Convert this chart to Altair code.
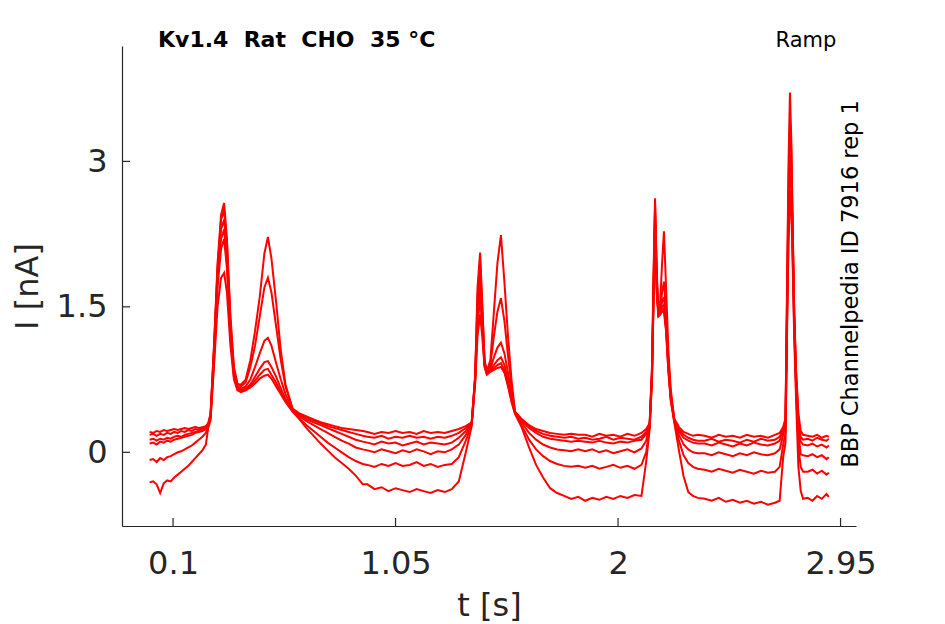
import altair as alt
import pandas as pd

# time axis (s)
t = [
    0.000, 0.015, 0.030, 0.045, 0.060, 0.075, 0.090, 0.105, 0.120, 0.135, 0.150, 0.165, 0.180, 0.195, 0.210, 0.225, 0.240, 0.250,
    0.260, 0.275, 0.290, 0.305, 0.318, 0.330, 0.345, 0.360, 0.375, 0.390, 0.410, 0.430, 0.450, 0.470, 0.490, 0.505, 0.520, 0.540, 0.560, 0.580, 0.610,
    0.640, 0.670, 0.700, 0.730, 0.760, 0.790, 0.820, 0.850, 0.880, 0.910,
    0.930, 0.960, 0.990, 1.020, 1.050, 1.080, 1.110, 1.140, 1.170, 1.200, 1.230, 1.260, 1.290, 1.320, 1.350, 1.375,
    1.390, 1.400, 1.411, 1.420, 1.430, 1.440, 1.455, 1.470, 1.485, 1.500, 1.515, 1.530, 1.545, 1.560,
    1.590, 1.620, 1.650, 1.680, 1.710, 1.740, 1.770, 1.800, 1.830,
    1.860, 1.890, 1.920, 1.950, 1.980, 2.010, 2.040, 2.070, 2.100, 2.120, 2.135,
    2.145, 2.152, 2.158, 2.165, 2.172, 2.180, 2.188, 2.196, 2.205, 2.215, 2.225, 2.240,
    2.260, 2.280, 2.300, 2.320, 2.340,
    2.370, 2.400, 2.430, 2.460, 2.490, 2.520, 2.550, 2.580, 2.610, 2.640, 2.670, 2.690, 2.705,
    2.715, 2.722, 2.728, 2.734, 2.740, 2.746, 2.752, 2.760, 2.770, 2.780, 2.790,
    2.810, 2.830, 2.850, 2.870, 2.890, 2.900,
]

# current traces (nA), one list per sweep
sweep1 = [
    0.21, 0.20, 0.22, 0.21, 0.23, 0.22, 0.23, 0.24, 0.23, 0.24, 0.25, 0.24, 0.25, 0.26, 0.25, 0.26, 0.27, 0.30,
    0.40, 1.10, 1.90, 2.40, 2.50, 2.15, 1.35, 0.85, 0.70, 0.70, 0.75, 0.95, 1.25, 1.60, 2.05, 2.22, 2.00, 1.55, 1.05, 0.70, 0.45,
    0.40, 0.37, 0.34, 0.31, 0.29, 0.27, 0.25, 0.24, 0.23, 0.22,
    0.21, 0.19, 0.21, 0.20, 0.22, 0.20, 0.21, 0.19, 0.22, 0.20, 0.21, 0.20, 0.22, 0.24, 0.27, 0.31,
    0.80, 1.70, 2.06, 1.55, 0.95, 0.84, 0.95, 1.45, 1.95, 2.24, 1.75, 1.20, 0.75, 0.42,
    0.34, 0.28, 0.24, 0.22, 0.20, 0.19, 0.18, 0.19, 0.18,
    0.18, 0.16, 0.19, 0.17, 0.18, 0.16, 0.19, 0.17, 0.20, 0.24, 0.30,
    0.90, 1.90, 2.62, 1.90, 1.42, 1.55, 1.95, 2.28, 1.70, 1.05, 0.65, 0.35,
    0.26, 0.21, 0.19, 0.17, 0.18,
    0.17, 0.15, 0.18, 0.16, 0.17, 0.15, 0.18, 0.16, 0.17, 0.15, 0.18, 0.20, 0.26,
    0.35, 1.80, 3.00, 3.71, 3.20, 2.30, 1.50, 0.85, 0.40, 0.22, 0.18,
    0.17, 0.16, 0.18, 0.15, 0.17, 0.16,
]
sweep2 = [
    0.18, 0.19, 0.17, 0.19, 0.18, 0.20, 0.19, 0.21, 0.20, 0.22, 0.21, 0.23, 0.22, 0.24, 0.23, 0.25, 0.26, 0.29,
    0.38, 1.10, 1.95, 2.45, 2.57, 2.20, 1.40, 0.88, 0.71, 0.68, 0.72, 0.88, 1.10, 1.40, 1.70, 1.80, 1.65, 1.30, 0.95, 0.68, 0.45,
    0.39, 0.36, 0.33, 0.30, 0.27, 0.25, 0.23, 0.21, 0.19, 0.17,
    0.16, 0.15, 0.17, 0.14, 0.16, 0.15, 0.17, 0.15, 0.16, 0.14, 0.16, 0.15, 0.17, 0.20, 0.25, 0.30,
    0.78, 1.60, 1.98, 1.50, 0.93, 0.83, 0.90, 1.20, 1.45, 1.59, 1.35, 1.00, 0.68, 0.42,
    0.33, 0.27, 0.22, 0.19, 0.17, 0.16, 0.15, 0.16, 0.14,
    0.15, 0.13, 0.14, 0.16, 0.13, 0.15, 0.14, 0.13, 0.16, 0.21, 0.30,
    0.85, 1.80, 2.55, 1.85, 1.40, 1.48, 1.65, 1.76, 1.45, 0.95, 0.60, 0.34,
    0.24, 0.18, 0.15, 0.13, 0.12,
    0.12, 0.14, 0.11, 0.13, 0.12, 0.10, 0.13, 0.11, 0.14, 0.12, 0.13, 0.16, 0.24,
    0.33, 1.70, 2.80, 3.40, 3.10, 2.25, 1.45, 0.82, 0.35, 0.16, 0.13,
    0.14, 0.12, 0.15, 0.13, 0.12, 0.14,
]
sweep3 = [
    0.13, 0.14, 0.12, 0.14, 0.13, 0.15, 0.14, 0.16, 0.17, 0.16, 0.18, 0.19, 0.20, 0.21, 0.22, 0.23, 0.25, 0.29,
    0.37, 1.05, 1.85, 2.30, 2.40, 2.05, 1.30, 0.82, 0.68, 0.66, 0.68, 0.75, 0.88, 1.02, 1.15, 1.18, 1.10, 0.92, 0.75, 0.60, 0.44,
    0.38, 0.34, 0.31, 0.28, 0.25, 0.22, 0.19, 0.16, 0.13, 0.11,
    0.10, 0.08, 0.11, 0.09, 0.10, 0.07, 0.09, 0.11, 0.08, 0.10, 0.09, 0.08, 0.10, 0.15, 0.22, 0.30,
    0.77, 1.50, 1.90, 1.45, 0.92, 0.82, 0.86, 0.98, 1.08, 1.13, 1.02, 0.82, 0.60, 0.41,
    0.32, 0.25, 0.20, 0.16, 0.14, 0.13, 0.12, 0.11, 0.12,
    0.11, 0.10, 0.12, 0.10, 0.09, 0.11, 0.10, 0.12, 0.13, 0.19, 0.29,
    0.82, 1.75, 2.50, 1.80, 1.42, 1.45, 1.55, 1.60, 1.35, 0.90, 0.58, 0.33,
    0.22, 0.15, 0.12, 0.10, 0.09,
    0.09, 0.07, 0.10, 0.08, 0.06, 0.09, 0.07, 0.10, 0.08, 0.07, 0.09, 0.12, 0.22,
    0.31, 1.60, 2.60, 3.08, 2.95, 2.20, 1.40, 0.78, 0.30, 0.11, 0.08,
    0.07, 0.09, 0.06, 0.08, 0.05, 0.07,
]
sweep4 = [
    0.09, 0.10, 0.08, 0.11, 0.10, 0.12, 0.11, 0.13, 0.14, 0.15, 0.16, 0.17, 0.18, 0.20, 0.21, 0.22, 0.24, 0.28,
    0.36, 1.00, 1.80, 2.20, 2.30, 1.95, 1.25, 0.80, 0.66, 0.64, 0.66, 0.70, 0.78, 0.86, 0.93, 0.94, 0.88, 0.78, 0.66, 0.55, 0.43,
    0.37, 0.32, 0.28, 0.24, 0.20, 0.16, 0.12, 0.09, 0.05, 0.03,
    0.02, 0.00, 0.03, 0.01, -0.01, 0.02, 0.00, 0.03, 0.01, -0.02, 0.01, 0.00, 0.03, 0.08, 0.18, 0.29,
    0.75, 1.40, 1.72, 1.35, 0.90, 0.81, 0.85, 0.90, 0.95, 0.98, 0.90, 0.74, 0.56, 0.41,
    0.30, 0.20, 0.13, 0.08, 0.05, 0.03, 0.02, 0.01, 0.03,
    0.01, 0.03, 0.00, 0.02, -0.01, 0.01, 0.03, 0.00, 0.04, 0.12, 0.28,
    0.80, 1.70, 2.42, 1.75, 1.43, 1.45, 1.50, 1.52, 1.30, 0.88, 0.56, 0.33,
    0.18, 0.08, 0.03, 0.00, -0.01,
    -0.01, -0.03, 0.00, -0.02, -0.04, -0.01, -0.03, 0.00, -0.02, -0.03, -0.01, 0.03, 0.18,
    0.28, 1.50, 2.45, 2.90, 2.80, 2.10, 1.35, 0.72, 0.20, -0.02, -0.03,
    -0.04, -0.02, -0.05, -0.03, -0.07, -0.05,
]
sweep5 = [
    -0.08, -0.07, -0.10, -0.06, -0.08, -0.05, -0.04, -0.02, 0.00, 0.01, 0.03, 0.05, 0.07, 0.10, 0.13, 0.16, 0.20, 0.27,
    0.35, 0.95, 1.70, 2.10, 2.20, 1.90, 1.20, 0.78, 0.65, 0.63, 0.65, 0.68, 0.74, 0.80, 0.85, 0.86, 0.80, 0.72, 0.62, 0.53, 0.43,
    0.35, 0.28, 0.22, 0.16, 0.10, 0.05, 0.00, -0.05, -0.09, -0.12,
    -0.13, -0.15, -0.12, -0.14, -0.11, -0.14, -0.13, -0.10, -0.14, -0.12, -0.15, -0.13, -0.12, -0.05, 0.12, 0.28,
    0.74, 1.30, 1.60, 1.30, 0.90, 0.81, 0.84, 0.87, 0.90, 0.92, 0.85, 0.70, 0.54, 0.40,
    0.27, 0.13, 0.03, -0.04, -0.09, -0.12, -0.14, -0.15, -0.14,
    -0.16, -0.14, -0.17, -0.15, -0.13, -0.16, -0.14, -0.17, -0.13, 0.00, 0.26,
    0.78, 1.65, 2.35, 1.70, 1.42, 1.44, 1.47, 1.48, 1.27, 0.85, 0.55, 0.32,
    0.12, -0.03, -0.11, -0.15, -0.17,
    -0.18, -0.20, -0.17, -0.19, -0.21, -0.18, -0.20, -0.22, -0.19, -0.21, -0.20, -0.15, 0.08,
    0.20, 1.40, 2.30, 2.70, 2.65, 2.00, 1.30, 0.65, 0.05, -0.15, -0.20,
    -0.20, -0.18, -0.22, -0.19, -0.23, -0.21,
]
sweep6 = [
    -0.31, -0.30, -0.33, -0.42, -0.32, -0.29, -0.30, -0.26, -0.23, -0.20, -0.17, -0.14, -0.10, -0.06, -0.02, 0.02, 0.08, 0.25,
    0.33, 0.90, 1.50, 1.80, 1.85, 1.65, 1.10, 0.75, 0.64, 0.62, 0.64, 0.67, 0.71, 0.76, 0.79, 0.80, 0.76, 0.68, 0.60, 0.52, 0.42,
    0.34, 0.25, 0.17, 0.09, 0.02, -0.05, -0.11, -0.17, -0.24, -0.33,
    -0.33, -0.38, -0.36, -0.40, -0.37, -0.39, -0.41, -0.38, -0.40, -0.42, -0.39, -0.41, -0.38, -0.30, 0.00, 0.27,
    0.72, 1.20, 1.42, 1.20, 0.88, 0.80, 0.83, 0.85, 0.87, 0.88, 0.82, 0.68, 0.52, 0.40,
    0.25, 0.05, -0.13, -0.26, -0.37, -0.42, -0.45, -0.48, -0.46,
    -0.50, -0.47, -0.49, -0.46, -0.48, -0.45, -0.47, -0.44, -0.45, -0.10, 0.24,
    0.75, 1.60, 2.25, 1.65, 1.40, 1.42, 1.45, 1.45, 1.25, 0.83, 0.53, 0.31,
    0.02, -0.25, -0.41, -0.45, -0.47,
    -0.48, -0.50, -0.47, -0.51, -0.49, -0.52, -0.50, -0.53, -0.51, -0.54, -0.52, -0.50, -0.05,
    0.10, 1.30, 2.20, 2.57, 2.50, 1.90, 1.20, 0.55, -0.15, -0.40, -0.48,
    -0.47, -0.50, -0.45, -0.48, -0.43, -0.46,
]

x_ticks = [0.1, 1.05, 2, 2.95]
y_ticks = [0, 1.5, 3]
x_domain = [-0.118, 3.016]
y_domain = [-0.76, 4.19]

NB = "\u00a0"
title_text = "Kv1.4" + NB * 2 + "Rat" + NB * 2 + "CHO" + NB * 2 + "35" + NB + "°C"
corner_text = "Ramp"
side_text = "BBP Channelpedia ID 7916 rep 1"

sweeps = [sweep1, sweep2, sweep3, sweep4, sweep5, sweep6]
rows = []
for k, s in enumerate(sweeps):
    n = min(len(t), len(s))
    for i in range(n):
        rows.append({"t": t[i], "I": s[i], "sweep": k + 1})
df = pd.DataFrame(rows)

FONT = "DejaVu Sans"
AX = "#262626"
W, H = 734, 480

xs = alt.Scale(domain=x_domain, nice=False, zero=False)
ys = alt.Scale(domain=y_domain, nice=False, zero=False)

x_axis = alt.Axis(
    values=x_ticks, title="t [s]", ticks=False, tickSize=0, grid=False,
    labelFontSize=32, labelFont=FONT, labelColor=AX, labelPadding=47,
    labelBaseline="alphabetic", labelFlush=False, labelExpr="'' + datum.value",
    titleFontSize=32, titleFont=FONT, titleColor=AX, titleFontWeight="normal",
    titleBaseline="alphabetic", titleY=89,
    domainColor=AX, domainWidth=1.2)
y_axis = alt.Axis(
    values=y_ticks, title="I [nA]", ticks=False, tickSize=0, grid=False,
    labelFontSize=32, labelFont=FONT, labelColor=AX, labelPadding=15,
    labelFlush=False, labelExpr="'' + datum.value",
    titleFontSize=32, titleFont=FONT, titleColor=AX, titleFontWeight="normal",
    titleBaseline="alphabetic", titleX=-85,
    domainColor=AX, domainWidth=1.2)

lines = alt.Chart(df).mark_line(color="#ff0000", strokeWidth=2, clip=True).encode(
    x=alt.X("t:Q", scale=xs, axis=x_axis),
    y=alt.Y("I:Q", scale=ys, axis=y_axis),
    detail="sweep:N",
)

xt = pd.DataFrame({"t": x_ticks})
yt = pd.DataFrame({"I": y_ticks})
xtick_rules = alt.Chart(xt).mark_rule(color=AX, strokeWidth=1.2).encode(
    x=alt.X("t:Q", scale=xs, axis=x_axis), y=alt.value(H), y2=alt.value(H - 8))
ytick_rules = alt.Chart(yt).mark_rule(color=AX, strokeWidth=1.2).encode(
    y=alt.Y("I:Q", scale=ys, axis=y_axis), x=alt.value(0), x2=alt.value(8))

one = pd.DataFrame({"a": [0]})
title_mark = alt.Chart(one).mark_text(
    text=title_text, font=FONT, fontSize=22, fontWeight="bold", color="black",
    align="left", baseline="alphabetic").encode(x=alt.value(36), y=alt.value(1))
corner_mark = alt.Chart(one).mark_text(
    text=corner_text, font=FONT, fontSize=21, color="black",
    align="center", baseline="alphabetic").encode(x=alt.value(684), y=alt.value(1))
side_mark = alt.Chart(one).mark_text(
    text=side_text, font=FONT, fontSize=22.5, color="black", angle=270,
    align="center", baseline="alphabetic").encode(x=alt.value(736), y=alt.value(238))

chart = alt.layer(lines, xtick_rules, ytick_rules, title_mark, corner_mark, side_mark).properties(
    width=W, height=H,
    autosize=alt.AutoSizeParams(type="none"),
    padding={"left": 114, "top": 38, "right": 80, "bottom": 96},
    background="white",
).configure_view(stroke=None)

chart.save("out.html", embed_options={"renderer": "svg", "actions": False})
